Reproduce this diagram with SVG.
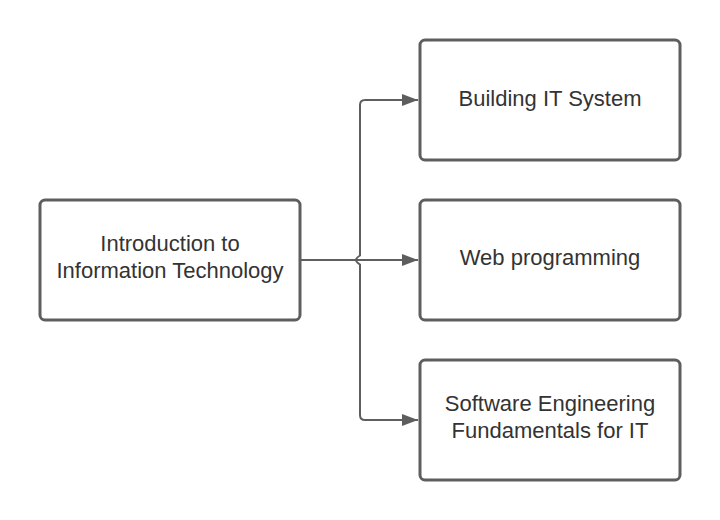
<svg xmlns="http://www.w3.org/2000/svg" width="720" height="520" viewBox="0 0 720 520">
<style>
.box{fill:#fff;stroke:#5e5e5e;stroke-width:3}
.lbl{font-family:"Liberation Sans",Arial,sans-serif;font-size:22px;fill:#333;text-anchor:middle}
.ln{fill:none;stroke:#5e5e5e;stroke-width:2}
</style>
<defs>
<marker id="ah" markerWidth="16" markerHeight="12" refX="16" refY="6" orient="auto" markerUnits="userSpaceOnUse">
<path d="M0,0 L16,6 L0,12 Z" fill="#5e5e5e"/>
</marker>
</defs>
<rect width="720" height="520" fill="#fff"/>
<g id="connectors">
<path class="ln" d="M300,260 L418,260" marker-end="url(#ah)"/>
<path class="ln" d="M418,100 L365,100 Q360,100 360,105 L360,255.5 Q356,258 356,260 Q356,262 360,264.5 L360,415 Q360,420 365,420 L418,420" marker-end="url(#ah)"/>
<path class="ln" d="M365,100 L418,100" marker-end="url(#ah)"/>
</g>
<g id="intro">
<rect class="box" x="40" y="200" width="260" height="120" rx="5"/>
<text class="lbl" x="170" y="251">Introduction to</text>
<text class="lbl" x="170" y="278">Information Technology</text>
</g>
<g id="building">
<rect class="box" x="420" y="40" width="260" height="120" rx="5"/>
<text class="lbl" x="550" y="106">Building IT System</text>
</g>
<g id="web">
<rect class="box" x="420" y="200" width="260" height="120" rx="5"/>
<text class="lbl" x="550" y="265">Web programming</text>
</g>
<g id="software">
<rect class="box" x="420" y="360" width="260" height="120" rx="5"/>
<text class="lbl" x="550" y="411">Software Engineering</text>
<text class="lbl" x="550" y="438">Fundamentals for IT</text>
</g>
</svg>
